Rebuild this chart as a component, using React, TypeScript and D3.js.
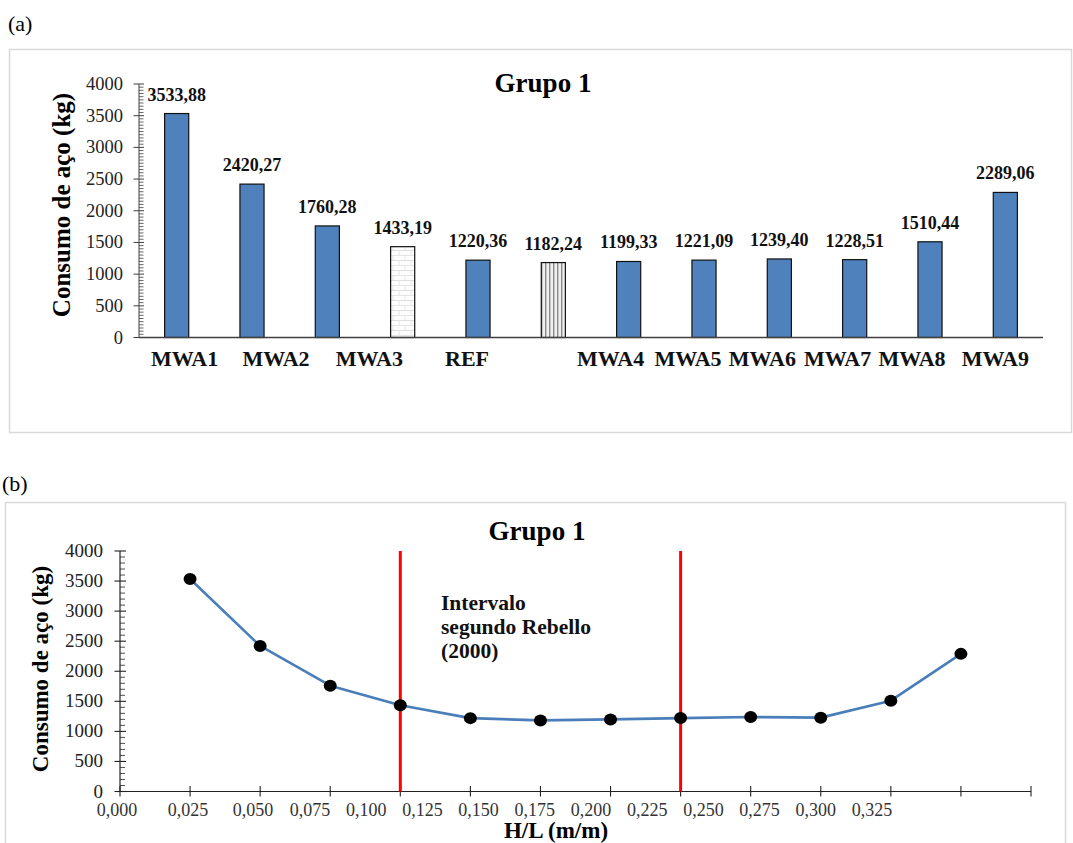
import React from "react";
import * as d3 from "d3";

// ---------- data ----------
const categories = ["MWA1", "MWA2", "MWA3", "", "REF", "", "MWA4", "MWA5", "MWA6", "MWA7", "MWA8", "MWA9"];
const steelKg = [3533.88, 2420.27, 1760.28, 1433.19, 1220.36, 1182.24, 1199.33, 1221.09, 1239.4, 1228.51, 1510.44, 2289.06];
const hlValues = [0.025, 0.05, 0.075, 0.1, 0.125, 0.15, 0.175, 0.2, 0.225, 0.25, 0.275, 0.3];
const hlTicks = [0, 0.025, 0.05, 0.075, 0.1, 0.125, 0.15, 0.175, 0.2, 0.225, 0.25, 0.275, 0.3, 0.325];
const hlTickLabels = ["0,000", "0,025", "0,050", "0,075", "0,100", "0,125", "0,150", "0,175", "0,200", "0,225", "0,250", "0,275", "0,300", "0,325"];
const rebelloLimits = [0.1, 0.2];
const yTicks = [0, 500, 1000, 1500, 2000, 2500, 3000, 3500, 4000];
const title = "Grupo 1";
const yTitle = "Consumo de aço (kg)";
const xTitleB = "H/L (m/m)";
const noteLines = ["Intervalo", "segundo Rebello", "(2000)"];

// ---------- styles ----------
const barFillKind = ["blue", "blue", "blue", "brick", "blue", "stripe", "blue", "blue", "blue", "blue", "blue", "blue"];
const labelNudge = [8, 24, 42, 0, -11, 0, -18, -16, -17, -17, -18, -10];
const FONT = "'Liberation Serif', 'Times New Roman', serif";
const BLUE = "#4F81BD";
const LINE_BLUE = "#4A7EBB";

const fmt = (v: number) => d3.format(".2f")(v).replace(".", ",");

export default function App() {
  // chart (a)
  const xA = d3.scaleBand<number>().domain(d3.range(categories.length)).range([139, 1043]).paddingInner(0.68).paddingOuter(0.34);
  const yA = d3.scaleLinear().domain([0, 4000]).range([337.5, 84]);
  const minorA = d3.range(0, 4001, 50).filter((v) => v % 500 !== 0);

  // chart (b)
  const xB = d3.scaleLinear().domain([0, 0.325]).range([120, 1031]);
  const yB = d3.scaleLinear().domain([0, 4000]).range([791.5, 551]);
  const minorB = d3.range(0, 4001, 100).filter((v) => v % 500 !== 0);
  const xLabelB = d3.scaleLinear().domain([0, 0.025, 0.05, 0.075, 0.325]).range([117, 188, 253, 310, 872]);
  const line = d3
    .line<number>()
    .x((_, i) => xB(hlValues[i]))
    .y((d) => yB(d))
    .curve(d3.curveLinear);

  const fillFor = (k: string) => (k === "brick" ? "url(#brick)" : k === "stripe" ? "url(#stripe)" : BLUE);

  return (
    <svg width={1073} height={843} style={{ position: "absolute", left: 0, top: 0, background: "#fff" }} fontFamily={FONT}>
      <defs>
        <pattern id="brick" width="12" height="10" patternUnits="userSpaceOnUse">
          <rect width="12" height="10" fill="#fdfdfd" />
          <line x1="0" y1="0.5" x2="12" y2="0.5" stroke="#d6d6d6" strokeWidth="0.8" />
          <line x1="0" y1="5.5" x2="12" y2="5.5" stroke="#dedede" strokeWidth="0.8" />
          <line x1="3" y1="0" x2="3" y2="5" stroke="#e2e2e2" strokeWidth="0.8" />
          <line x1="9" y1="5" x2="9" y2="10" stroke="#e2e2e2" strokeWidth="0.8" />
        </pattern>
        <pattern id="stripe" width="4" height="4" patternUnits="userSpaceOnUse">
          <rect width="4" height="4" fill="#efefef" />
          <rect x="1" width="1.4" height="4" fill="#8a8a8a" />
        </pattern>
      </defs>

      {/* ---------------- panel (a) ---------------- */}
      <text x={8} y={31} fontSize={22}>(a)</text>
      <rect x={9.5} y={49.5} width={1062} height={383} fill="none" stroke="#d9d9d9" strokeWidth={1.5} />
      <text x={543} y={92} fontSize={27} fontWeight="bold" textAnchor="middle">{title}</text>
      <text transform={`translate(70,205) rotate(-90)`} fontSize={25} fontWeight="bold" textAnchor="middle">{yTitle}</text>

      {/* y axis */}
      <line x1={139} x2={139} y1={yA(4000)} y2={yA(0)} stroke="#404040" strokeWidth={1} />
      {minorA.map((v) => (
        <line key={"ma" + v} x1={139} x2={143.5} y1={yA(v)} y2={yA(v)} stroke="#404040" strokeWidth={0.8} />
      ))}
      {yTicks.map((v) => (
        <g key={"ya" + v}>
          <line x1={133.5} x2={144} y1={yA(v)} y2={yA(v)} stroke="#404040" strokeWidth={1} />
          <text x={123} y={yA(v) + 6} fontSize={18.5} textAnchor="end" fill="#222">{v}</text>
        </g>
      ))}

      {/* bars */}
      {steelKg.map((v, i) => (
        <g key={"bar" + i}>
          <rect
            x={xA(i)!}
            y={yA(v)}
            width={xA.bandwidth()}
            height={yA(0) - yA(v)}
            fill={fillFor(barFillKind[i])}
            stroke="#111"
            strokeWidth={1.2}
          />
          <text x={xA(i)! + xA.bandwidth() / 2} y={yA(v) - 13} fontSize={18} fontWeight="bold" textAnchor="middle" fill="#111">
            {fmt(v)}
          </text>
        </g>
      ))}
      <line x1={139} x2={1043} y1={yA(0)} y2={yA(0)} stroke="#404040" strokeWidth={1.3} />
      {categories.map((c, i) => (
        <text key={"cat" + i} x={xA(i)! + xA.bandwidth() / 2 + labelNudge[i]} y={366} fontSize={22} fontWeight="bold" textAnchor="middle" fill="#111">
          {c}
        </text>
      ))}

      {/* ---------------- panel (b) ---------------- */}
      <text x={2} y={491} fontSize={22}>(b)</text>
      <rect x={5.5} y={502.5} width={1060} height={360} fill="none" stroke="#d9d9d9" strokeWidth={1.5} />
      <text x={537} y={540} fontSize={27} fontWeight="bold" textAnchor="middle">{title}</text>
      <text transform={`translate(48,669) rotate(-90)`} fontSize={23} fontWeight="bold" textAnchor="middle">{yTitle}</text>

      {/* y axis */}
      <line x1={120} x2={120} y1={yB(4000)} y2={yB(0)} stroke="#222" strokeWidth={1.2} />
      {minorB.map((v) => (
        <line key={"mb" + v} x1={120} x2={125} y1={yB(v)} y2={yB(v)} stroke="#222" strokeWidth={0.8} />
      ))}
      {yTicks.map((v) => (
        <g key={"yb" + v}>
          <line x1={114.5} x2={126} y1={yB(v)} y2={yB(v)} stroke="#222" strokeWidth={1.1} />
          <text x={103} y={yB(v) + 6} fontSize={19} textAnchor="end" fill="#222">{v}</text>
        </g>
      ))}

      {/* x axis */}
      <line x1={xB(0)} x2={xB(0.325)} y1={yB(0)} y2={yB(0)} stroke="#222" strokeWidth={1.2} />
      {hlTicks.map((t) => (
        <line key={"xt" + t} x1={xB(t)} x2={xB(t)} y1={yB(0) - 5.5} y2={yB(0) + 5} stroke="#222" strokeWidth={1.1} />
      ))}
      {hlTickLabels.map((lab, i) => (
        <text key={"xl" + i} x={xLabelB(hlTicks[i])} y={816} fontSize={18} textAnchor="middle" fill="#333">
          {lab}
        </text>
      ))}
      <text x={556} y={838} fontSize={23} fontWeight="bold" textAnchor="middle">{xTitleB}</text>

      {/* red interval lines */}
      {rebelloLimits.map((r) => (
        <line key={"r" + r} x1={xB(r)} x2={xB(r)} y1={yB(4000)} y2={yB(0)} stroke="#ff0000" strokeWidth={3} />
      ))}

      {/* annotation */}
      {noteLines.map((l, i) => (
        <text key={"n" + i} x={441} y={610 + i * 24} fontSize={21.5} fontWeight="bold" fill="#111">
          {l}
        </text>
      ))}

      {/* series */}
      <path d={line(steelKg) || ""} fill="none" stroke={LINE_BLUE} strokeWidth={2.6} strokeLinejoin="round" />
      {steelKg.map((v, i) => (
        <ellipse key={"pt" + i} cx={xB(hlValues[i])} cy={yB(v)} rx={6.5} ry={6} fill="#000" />
      ))}
    </svg>
  );
}
